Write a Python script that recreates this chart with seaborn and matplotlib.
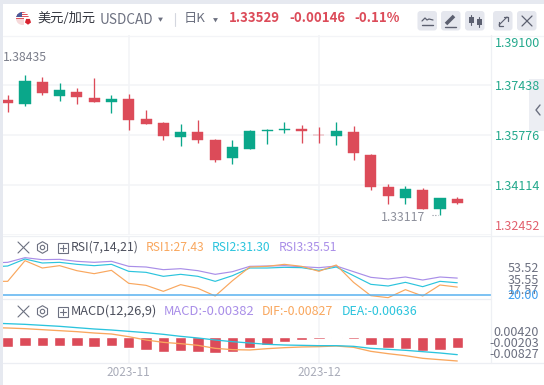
import numpy as np
import pandas as pd
import matplotlib
matplotlib.use('Agg')
import matplotlib.pyplot as plt
import seaborn as sns
from matplotlib.patches import Circle, Rectangle, FancyBboxPatch, RegularPolygon

# daily candles
opens = [1.36939, 1.36806, 1.37538, 1.37072, 1.37205, 1.37006, 1.36883, 1.36973, 1.36308,
         1.36175, 1.35720, 1.35876, 1.35610, 1.35011, 1.35311, 1.35909, 1.35942, 1.35975,
         1.35776, 1.35743, 1.35876, 1.35111, 1.34048, 1.33682, 1.33948, 1.33316, 1.33649]
closes = [1.36850, 1.37571, 1.37182, 1.37272, 1.37049, 1.36883, 1.36973, 1.36275, 1.36142,
          1.35753, 1.35876, 1.35610, 1.34945, 1.35377, 1.35909, 1.35942, 1.35975, 1.35909,
          1.35760, 1.35909, 1.35178, 1.34048, 1.33748, 1.33981, 1.33316, 1.33682, 1.33529]
highs = [1.37106, 1.37770, 1.37694, 1.37494, 1.37328, 1.37661, 1.37106, 1.37139, 1.36607,
         1.36208, 1.36142, 1.36275, 1.35643, 1.35610, 1.35942, 1.35975, 1.36208, 1.36108,
         1.36042, 1.36208, 1.36075, 1.35144, 1.34147, 1.34081, 1.34014, 1.33682, 1.33715]
lows = [1.36550, 1.36750, 1.37106, 1.36916, 1.36806, 1.36883, 1.36517, 1.35942, 1.36142,
        1.35610, 1.35410, 1.35510, 1.34879, 1.34812, 1.35311, 1.35477, 1.35842, 1.35510,
        1.35510, 1.35444, 1.34945, 1.33948, 1.33482, 1.33482, 1.33316, 1.33117, 1.33482]

# indicator lines start one day before the first visible candle
rsi1 = [32.58, 32.58, 51.20, 44.59, 46.70, 42.19, 39.49, 42.49, 30.78, 28.98, 23.57, 29.58, 26.27,
        19.37, 33.18, 45.49, 46.09, 47.90, 46.09, 41.59, 47.30, 31.68, 19.67, 17.87, 25.08,
        19.37, 29.28, 27.43]
rsi2 = [45.49, 46.39, 52.70, 49.10, 49.70, 47.90, 46.70, 47.90, 41.59, 40.69, 37.09, 38.89, 37.09,
        32.58, 37.69, 44.59, 44.59, 45.19, 44.89, 42.49, 45.49, 37.69, 29.88, 28.38, 31.68,
        27.78, 32.58, 31.30]
rsi3 = [49.10, 49.70, 53.90, 52.10, 52.40, 50.60, 49.70, 50.60, 46.09, 45.49, 43.09, 43.99, 42.19,
        38.89, 41.29, 46.09, 46.39, 46.70, 45.79, 44.89, 46.39, 41.29, 36.19, 34.68, 36.49,
        33.78, 36.49, 35.51]

macd_hist = [-0.00322, -0.00289, -0.00289, -0.00289, -0.00300, -0.00322, -0.00289, -0.00367,
             -0.00433, -0.00500, -0.00467, -0.00489, -0.00533, -0.00500, -0.00378, -0.00267,
             -0.00167, -0.00100, -0.00067, -0.00033, -0.00067, -0.00267, -0.00367, -0.00400,
             -0.00467, -0.00433, -0.00382]
dif = [0.00315, 0.00300, 0.00278, 0.00244, 0.00211, 0.00178, 0.00133, 0.00100, 0.00011, -0.00100,
       -0.00178, -0.00222, -0.00278, -0.00378, -0.00422, -0.00433, -0.00389, -0.00356, -0.00333,
       -0.00322, -0.00300, -0.00344, -0.00478, -0.00556, -0.00622, -0.00711, -0.00756, -0.00800]
dea = [0.00465, 0.00444, 0.00422, 0.00389, 0.00356, 0.00311, 0.00267, 0.00233, 0.00189, 0.00144,
       0.00089, 0.00022, -0.00033, -0.00100, -0.00156, -0.00200, -0.00244, -0.00267, -0.00278,
       -0.00289, -0.00289, -0.00311, -0.00378, -0.00411, -0.00444, -0.00489, -0.00533, -0.00589]

price_grid = [1.37438, 1.35776, 1.34114, 1.32452]
price_labels = ['1.39100', '1.37438', '1.35776', '1.34114', '1.32452']
rsi_labels = ['53.52', '35.55', '17.57']
macd_labels = ['0.00420', '-0.00203', '-0.00827']
month_idx = [7, 18]
month_labels = ['2023-11', '2023-12']

RED = '#dc4b59'
GREEN = '#0aa78a'
ORANGE = '#f9a75e'
CYAN = '#2bc4dd'
PURPLE = '#a98ee8'
BLUE = '#58b1f0'
GRID = '#f3f4f7'
GREY = '#6c7080'

sns.set_theme(style='white')
plt.rcParams['font.family'] = ['Noto Sans CJK SC', 'DejaVu Sans']

W, H = 544, 385
fig = plt.figure(figsize=(W / 100, H / 100), dpi=100, facecolor='white')


def panel(top, bottom, left=3, right=491):
    ax = fig.add_axes([left / W, 1 - bottom / H, (right - left) / W, (bottom - top) / H])
    ax.set_facecolor('none')
    for s in ax.spines.values():
        s.set_visible(False)
    ax.tick_params(left=False, bottom=False, labelleft=False, labelbottom=False)
    return ax


idx = np.arange(len(opens))
line_idx = np.arange(-1, len(opens))
xlim = (-0.272, 27.95)

# candles
ax = panel(35, 235)
cols = [RED if c < o else GREEN for o, c in zip(opens, closes)]
ax.vlines(idx, lows, highs, colors=cols, lw=0.95, zorder=3)
ax.bar(idx, np.array(closes) - np.array(opens), bottom=opens, width=0.64, color=cols,
       edgecolor=cols, linewidth=0.3, zorder=4)
ax.set_xlim(xlim)
ax.set_ylim(1.32452, 1.39100)
ax.set_yticks(price_grid)
ax.yaxis.grid(True, color=GRID, lw=1.1)
ax.set_xticks(month_idx)
ax.xaxis.grid(True, color=GRID, lw=1.1)

# RSI
ax_rsi = panel(236, 299)
rsi_df = pd.DataFrame({'i': line_idx, 'RSI1': rsi1, 'RSI2': rsi2, 'RSI3': rsi3}).melt('i')
sns.lineplot(data=rsi_df, x='i', y='value', hue='variable', legend=False, lw=0.85, ax=ax_rsi,
             palette={'RSI1': ORANGE, 'RSI2': CYAN, 'RSI3': PURPLE}, hue_order=['RSI3', 'RSI2', 'RSI1'])
ax_rsi.axhline(20, color=BLUE, lw=1.1)
ax_rsi.set_xlim(xlim)
ax_rsi.set_ylim(16.67, 73.42)
ax_rsi.set_xticks(month_idx)
ax_rsi.xaxis.grid(True, color=GRID, lw=1.1)
ax_rsi.set_xlabel('')
ax_rsi.set_ylabel('')

# MACD
ax_macd = panel(299, 363)
sns.barplot(x=idx, y=macd_hist, native_scale=True, color=RED, saturation=1, width=0.66,
            ax=ax_macd, zorder=2)
macd_df = pd.DataFrame({'i': line_idx, 'DIF': dif, 'DEA': dea}).melt('i')
sns.lineplot(data=macd_df, x='i', y='value', hue='variable', legend=False, lw=0.95, ax=ax_macd,
             palette={'DIF': ORANGE, 'DEA': CYAN}, zorder=3)
ax_macd.set_xlim(xlim)
ax_macd.set_ylim(-0.00867, 0.01267)
ax_macd.set_xticks(month_idx)
ax_macd.xaxis.grid(True, color=GRID, lw=1.1)
ax_macd.set_axisbelow(True)
ax_macd.set_xlabel('')
ax_macd.set_ylabel('')

# page furniture, in pixels
ov = fig.add_axes([0, 0, 1, 1], facecolor='none')
ov.set_xlim(0, W)
ov.set_ylim(H, 0)
ov.axis('off')

ov.add_patch(Rectangle((0, 0), W, 3.5, color='#e6e9f0', lw=0))
ov.add_patch(Rectangle((0, 0), 2.5, H, color='#e6e9f0', lw=0))
ov.plot([3, 491], [299, 299], color='#eceef3', lw=0.9)
ov.plot([3, 544], [35.5, 35.5], color=GRID, lw=0.9)
ov.plot([3, 544], [235.8, 235.8], color='#eef0f4', lw=0.9)
ov.plot([3, 544], [363, 363], color='#eceef3', lw=0.9)
ov.plot([491, 491], [35, 363], color='#eef0f4', lw=0.9)
ov.add_patch(Rectangle((529, 79), 15, 52, color='#eceef3', lw=0, zorder=1))
ov.plot([540, 536, 540], [105, 110, 115], color=GREY, lw=1.0, zorder=2)

# flag
clip = Circle((22.5, 18.5), 6.5, transform=ov.transData)
for k in range(7):
    r = Rectangle((15, 12 + k * 1.0), 15, 1.0, color='#e0525c' if k % 2 == 0 else 'white', lw=0)
    ov.add_patch(r)
    r.set_clip_path(clip)
b = Rectangle((15, 12), 7, 5, color='#4a5a9a', lw=0)
ov.add_patch(b)
b.set_clip_path(clip)
low = Rectangle((15, 19), 15, 7, color='#f6d9da', lw=0)
ov.add_patch(low)
low.set_clip_path(clip)
ov.add_patch(Rectangle((24, 18), 8, 7, color='white', lw=0))
ov.add_patch(RegularPolygon((28, 21.5), 5, radius=3.2, color='#d8232f', lw=0))

ov.text(37, 18.5, '美元/加元', fontsize=9.5, color='#33363f', va='center')
ov.text(100, 19.5, 'USDCAD', fontsize=9.8, color=GREY, va='center')
ov.add_patch(RegularPolygon((160.5, 19), 3, radius=2.8, orientation=0, color=GREY, lw=0))
ov.plot([174.5, 174.5], [13, 26], color='#d4d7df', lw=0.8)
ov.text(184, 18.5, '日K', fontsize=9.5, color=GREY, va='center')
ov.add_patch(RegularPolygon((215.5, 19.5), 3, radius=2.8, orientation=0, color=GREY, lw=0))
ov.text(229, 18.5, '1.33529', fontsize=9.5, fontweight='bold', color=RED, va='center')
ov.text(289, 18.5, '-0.00146', fontsize=9.5, fontweight='bold', color=RED, va='center')
ov.text(354, 18.5, '-0.11%', fontsize=9.5, fontweight='bold', color=RED, va='center')

for x0 in [417.5, 441, 465, 493, 517]:
    ov.add_patch(FancyBboxPatch((x0 + 2, 13), 15.5, 15.5, boxstyle='round,pad=2,rounding_size=3',
                                color='#e5e7ee', lw=0))
ic = '#5c6070'
ov.plot([422, 425, 427, 429, 433], [21, 18, 20, 19, 20], color=ic, lw=0.9)
ov.plot([422, 433], [25, 25], color=ic, lw=1.0)
ov.plot([446, 454], [24, 16], color=ic, lw=2.6, solid_capstyle='butt')
ov.plot([445, 456], [26.5, 26.5], color=ic, lw=1.0)
ov.plot([471, 471], [15, 25], color=ic, lw=0.8)
ov.plot([479, 479], [17, 27], color=ic, lw=0.8)
ov.add_patch(Rectangle((469, 17), 4.5, 6, color=ic, lw=0))
ov.add_patch(Rectangle((477, 19), 4.5, 6, color=ic, lw=0))
ov.plot([499, 507], [25, 17], color=ic, lw=0.8)
ov.plot([503.5, 507.5, 507.5], [16.5, 16.5, 20.5], color=ic, lw=0.9)
ov.plot([498.5, 498.5, 502.5], [21.5, 25.5, 25.5], color=ic, lw=0.9)
ov.plot([522, 532], [16, 26], color=ic, lw=0.9)
ov.plot([522, 532], [26, 16], color=ic, lw=0.9)

# price axis labels
price_y = [43.5, 87, 136, 187, 226.5]
price_cols = ['#24a98d'] * 4 + ['#e2616e']
for lab, y, c in zip(price_labels, price_y, price_cols):
    ov.text(540, y, lab, fontsize=9, color=c, ha='right', va='center', zorder=5)

ov.text(3, 57.5, '1.38435', fontsize=8.8, color='#7b7e8b', va='center')
ov.text(381, 217.5, '1.33117', fontsize=8.8, color='#8d909c', va='center')
ov.plot([432, 438], [214.5, 214.5], color='#8d909c', lw=0.8, ls=(0, (1, 1.5)))

for lab, y in zip(rsi_labels, [269, 280.5, 290.5]):
    ov.text(539, y, lab, fontsize=9, color=GREY, ha='right', va='center')
ov.text(539, 295.5, '20.00', fontsize=9, color='#3f9ff0', ha='right', va='center')
for lab, y in zip(macd_labels, [333, 343.5, 354]):
    ov.text(539, y, lab, fontsize=9, color=GREY, ha='right', va='center')

for i, lab in zip(month_idx, month_labels):
    ov.text(7.7 + i * 17.29, 372, lab, fontsize=8.5, color='#a9acb9', ha='center', va='center')


def legend_row(y, items):
    ov.plot([18, 29], [y - 5.5, y + 5.5], color=GREY, lw=0.8)
    ov.plot([18, 29], [y + 5.5, y - 5.5], color=GREY, lw=0.8)
    ov.add_patch(RegularPolygon((42.5, y), 6, radius=5.8, fill=False, ec=GREY, lw=0.8))
    ov.add_patch(Circle((42.5, y), 2.2, fill=False, ec=GREY, lw=0.8))
    ov.add_patch(Rectangle((57.5, y - 5), 10, 10, fill=False, ec=GREY, lw=0.8))
    ov.plot([59.5, 65.5], [y, y], color=GREY, lw=0.8)
    ov.plot([62.5, 62.5], [y - 3, y + 3], color=GREY, lw=0.8)
    for x, s, c, fs in items:
        ov.text(x, y, s, fontsize=fs, color=c, va='center')


legend_row(247.5, [(71, 'RSI(7,14,21)', '#4c4f5c', 8.8), (146, 'RSI1:27.43', ORANGE, 8.7),
                   (212, 'RSI2:31.30', CYAN, 8.7), (279, 'RSI3:35.51', PURPLE, 8.7)])
legend_row(311.5, [(71, 'MACD(12,26,9)', '#4c4f5c', 9.2), (164, 'MACD:-0.00382', PURPLE, 9.3),
                   (262, 'DIF:-0.00827', ORANGE, 8.9), (342, 'DEA:-0.00636', CYAN, 8.9)])

plt.savefig('out.png', dpi=100)
